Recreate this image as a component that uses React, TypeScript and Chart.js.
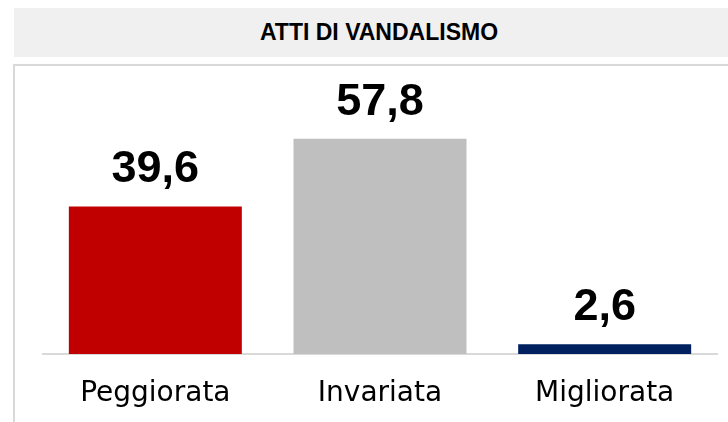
import React, { useEffect, useRef } from "react";
import { Chart, registerables } from "chart.js";

Chart.register(...registerables);

const title = "ATTI DI VANDALISMO";
const categories = ["Peggiorata", "Invariata", "Migliorata"];
const values = [39.6, 57.8, 2.6];
const barColors = ["#c00000", "#bfbfbf", "#002060"];

const valueLabels = {
  id: "valueLabels",
  afterDatasetsDraw(chart: any) {
    const ctx = chart.ctx;
    const meta = chart.getDatasetMeta(0);
    ctx.save();
    ctx.font = "bold 45px 'Liberation Sans', Arial, sans-serif";
    ctx.fillStyle = "#000000";
    ctx.textAlign = "center";
    ctx.textBaseline = "alphabetic";
    meta.data.forEach((bar: any, i: number) => {
      const v = values[i];
      ctx.fillText(v.toFixed(1).replace(".", ","), bar.x, bar.y - 24);
    });
    ctx.restore();
  },
};

export default function App() {
  const canvasRef = useRef<HTMLCanvasElement>(null);

  useEffect(() => {
    if (!canvasRef.current) return;
    const chart = new Chart(canvasRef.current, {
      type: "bar",
      data: {
        labels: categories,
        datasets: [
          {
            data: values,
            backgroundColor: barColors,
            borderWidth: 0,
            barPercentage: 0.77,
            categoryPercentage: 1,
          },
        ],
      },
      options: {
        responsive: false,
        animation: false,
        layout: { padding: { left: 43, right: 11, top: 56, bottom: 11 } },
        plugins: {
          legend: { display: false },
          title: { display: false },
          tooltip: { enabled: false },
        },
        scales: {
          y: { display: false, min: 0, max: 80 },
          x: {
            grid: { display: false, drawTicks: false },
            border: { display: true, color: "#d9d9d9", width: 2 },
            afterFit: (scale: any) => {
              scale.height = 57;
            },
            ticks: {
              color: "#000000",
              padding: 23,
              font: { family: "'DejaVu Sans', sans-serif", size: 28 },
            },
          },
        },
      },
      plugins: [valueLabels],
    });
    return () => chart.destroy();
  }, []);

  return (
    <div
      style={{
        position: "absolute",
        left: 0,
        top: 0,
        width: 728,
        height: 422,
        overflow: "hidden",
        background: "#ffffff",
      }}
    >
      <div
        style={{
          position: "absolute",
          left: 14,
          top: 8,
          width: 730,
          height: 49,
          background: "#f0f0f0",
          textAlign: "center",
          lineHeight: "49px",
          fontFamily: "'Liberation Sans', Arial, sans-serif",
          fontWeight: "bold",
          fontSize: 23,
          color: "#000000",
        }}
      >
        {title}
      </div>
      <div
        style={{
          position: "absolute",
          left: 13,
          top: 64,
          width: 760,
          height: 400,
          border: "2px solid #d9d9d9",
          boxSizing: "border-box",
        }}
      />
      <canvas
        ref={canvasRef}
        width={728}
        height={422}
        style={{ position: "absolute", left: 0, top: 0 }}
      />
    </div>
  );
}
